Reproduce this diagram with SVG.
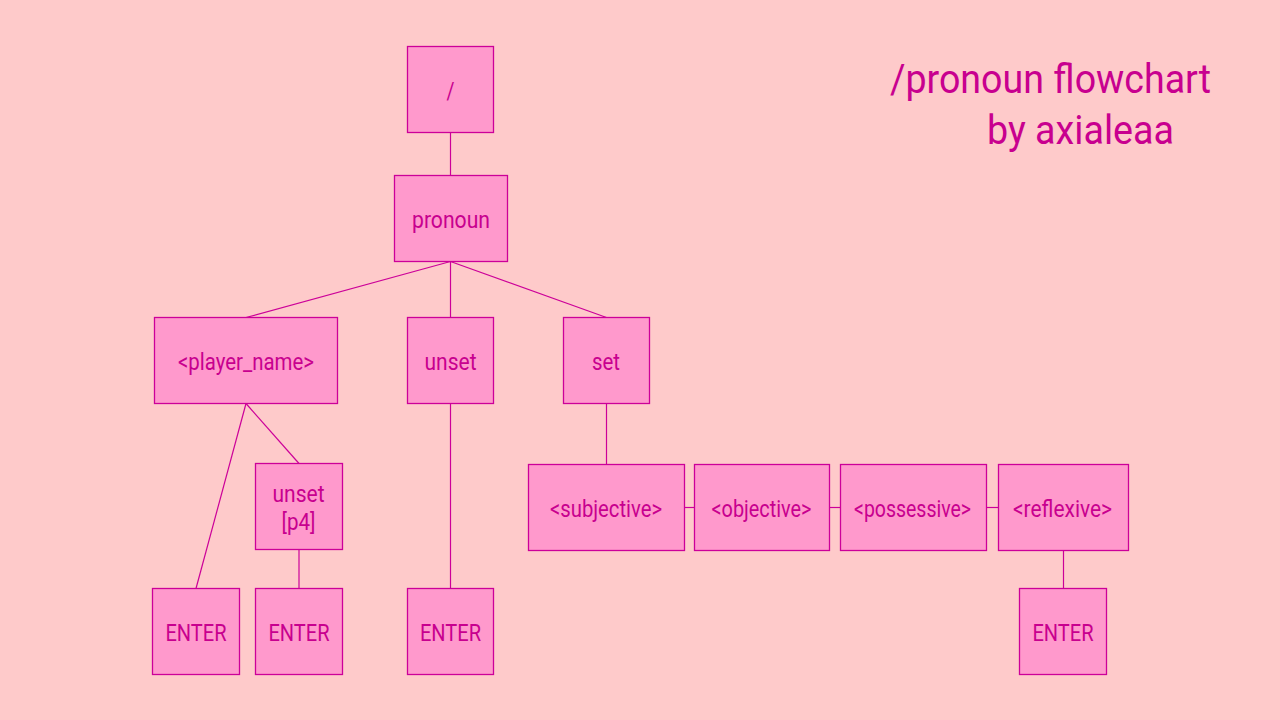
<svg xmlns="http://www.w3.org/2000/svg" width="1280" height="720" viewBox="0 0 1280 720">
<style>
.bg{fill:#FECACA}
.node rect{fill:#FF99CC;stroke:#CC0099;stroke-width:1.3}
.node text{fill:#C8008F;font-family:Roboto,"DejaVu Sans",sans-serif;font-size:24px;text-anchor:middle}
.title{fill:#C8008F;font-family:Roboto,"DejaVu Sans",sans-serif;font-size:40px}
#connectors line{stroke:#CC0099;stroke-width:1.2;fill:none}
</style>
<rect class="bg" x="0" y="0" width="1280" height="720"/>
<g id="title">
<text class="title" x="890" y="93" textLength="321" lengthAdjust="spacingAndGlyphs">/pronoun flowchart</text>
<text class="title" x="987" y="144" textLength="187" lengthAdjust="spacingAndGlyphs">by axialeaa</text>
</g>
<g id="connectors">
<line x1="450.5" y1="132.5" x2="450.5" y2="175.5"/>
<line x1="450.5" y1="261.5" x2="246" y2="317.5"/>
<line x1="450.5" y1="261.5" x2="450.5" y2="317.5"/>
<line x1="450.5" y1="261.5" x2="606.5" y2="317.5"/>
<line x1="246" y1="403.5" x2="196" y2="588.5"/>
<line x1="246" y1="403.5" x2="299" y2="463.5"/>
<line x1="299" y1="549.5" x2="299" y2="588.5"/>
<line x1="450.5" y1="403.5" x2="450.5" y2="588.5"/>
<line x1="606.5" y1="403.5" x2="606.5" y2="464.5"/>
<line x1="684.5" y1="507.5" x2="694.5" y2="507.5"/>
<line x1="829.5" y1="507.5" x2="840.5" y2="507.5"/>
<line x1="986.5" y1="507.5" x2="998.5" y2="507.5"/>
<line x1="1063.5" y1="550.5" x2="1063.5" y2="588.5"/>
</g>
<g id="node-root" class="node"><rect x="407.5" y="46.5" width="86" height="86"/><text x="450.5" y="99" textLength="8" lengthAdjust="spacingAndGlyphs">/</text></g>
<g id="node-pronoun" class="node"><rect x="394.5" y="175.5" width="113" height="86"/><text x="451" y="228" textLength="78" lengthAdjust="spacingAndGlyphs">pronoun</text></g>
<g id="node-player" class="node"><rect x="154.5" y="317.5" width="183" height="86"/><text x="246" y="370" textLength="136" lengthAdjust="spacingAndGlyphs">&lt;player_name&gt;</text></g>
<g id="node-unset" class="node"><rect x="407.5" y="317.5" width="86" height="86"/><text x="450.5" y="370" textLength="52" lengthAdjust="spacingAndGlyphs">unset</text></g>
<g id="node-set" class="node"><rect x="563.5" y="317.5" width="86" height="86"/><text x="606" y="370" textLength="28" lengthAdjust="spacingAndGlyphs">set</text></g>
<g id="node-unset-p4" class="node"><rect x="255.5" y="463.5" width="87" height="86"/><text x="298.5" y="502" textLength="52" lengthAdjust="spacingAndGlyphs">unset</text><text x="298.5" y="530" textLength="34" lengthAdjust="spacingAndGlyphs">[p4]</text></g>
<g id="node-subjective" class="node"><rect x="528.5" y="464.5" width="156" height="86"/><text x="606" y="517" textLength="112" lengthAdjust="spacingAndGlyphs">&lt;subjective&gt;</text></g>
<g id="node-objective" class="node"><rect x="694.5" y="464.5" width="135" height="86"/><text x="761.5" y="517" textLength="100" lengthAdjust="spacingAndGlyphs">&lt;objective&gt;</text></g>
<g id="node-possessive" class="node"><rect x="840.5" y="464.5" width="146" height="86"/><text x="912.5" y="517" textLength="117" lengthAdjust="spacingAndGlyphs">&lt;possessive&gt;</text></g>
<g id="node-reflexive" class="node"><rect x="998.5" y="464.5" width="130" height="86"/><text x="1062.5" y="517" textLength="99" lengthAdjust="spacingAndGlyphs">&lt;reflexive&gt;</text></g>
<g id="node-enter1" class="node"><rect x="152.5" y="588.5" width="87" height="86"/><text x="196" y="641" textLength="61" lengthAdjust="spacingAndGlyphs">ENTER</text></g>
<g id="node-enter2" class="node"><rect x="255.5" y="588.5" width="87" height="86"/><text x="299" y="641" textLength="61" lengthAdjust="spacingAndGlyphs">ENTER</text></g>
<g id="node-enter3" class="node"><rect x="407.5" y="588.5" width="86" height="86"/><text x="450.5" y="641" textLength="61" lengthAdjust="spacingAndGlyphs">ENTER</text></g>
<g id="node-enter4" class="node"><rect x="1019.5" y="588.5" width="87" height="86"/><text x="1063" y="641" textLength="61" lengthAdjust="spacingAndGlyphs">ENTER</text></g>
</svg>
